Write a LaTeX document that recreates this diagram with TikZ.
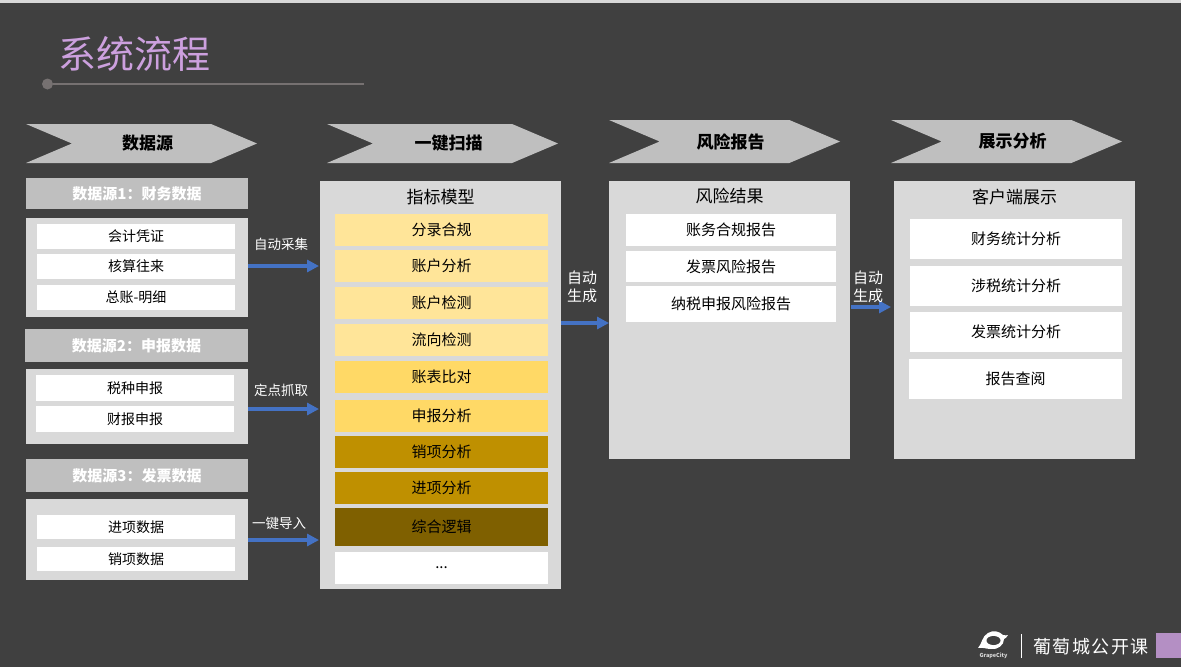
\documentclass[tikz,border=0pt]{standalone}
\usepackage{fontspec}
\setmainfont{Noto Sans CJK SC}
\usetikzlibrary{positioning,shapes.symbols,shapes.geometric,arrows.meta}
\definecolor{slidebg}{RGB}{64,64,64}
\definecolor{stripgray}{RGB}{217,217,217}
\definecolor{headgray}{RGB}{191,191,191}
\definecolor{panelgray}{RGB}{217,217,217}
\definecolor{titlepurple}{RGB}{204,160,222}
\definecolor{rulegray}{RGB}{118,113,113}
\definecolor{flowblue}{RGB}{68,114,196}
\definecolor{paleyellow}{RGB}{255,229,153}
\definecolor{midyellow}{RGB}{255,217,102}
\definecolor{darkgold}{RGB}{191,144,0}
\definecolor{deepgold}{RGB}{127,96,0}
\definecolor{cornerpurple}{RGB}{180,143,196}

\begin{document}
\begin{tikzpicture}[
    x=1pt, y=-1pt,
    node distance=5pt,
    every node/.style={inner sep=0pt, outer sep=0pt},
    stage/.style={signal, signal to=east, signal from=west, signal pointer angle=46,
                  fill=headgray, minimum width=231pt, minimum height=39pt,
                  execute at begin node=\hspace*{12pt},
                  font=\fontsize{17}{20}\selectfont\bfseries, text=black},
    srchead/.style={rectangle, fill=headgray, minimum width=222pt, minimum height=33pt,
                    font=\fontsize{15}{18}\selectfont\bfseries, text=white},
    panel/.style={rectangle, fill=panelgray, anchor=north west},
    paneltitle/.style={font=\fontsize{17}{20}\selectfont, text=black},
    srcitem/.style={rectangle, fill=white, minimum width=198pt, minimum height=25pt,
                    font=\fontsize{14}{17}\selectfont, text=black},
    checkitem/.style={rectangle, minimum width=213pt, minimum height=32pt,
                      font=\fontsize{15}{18}\selectfont, text=black},
    resultitem/.style={rectangle, fill=white, minimum width=210pt, minimum height=32pt,
                       font=\fontsize{15}{18}\selectfont, text=black},
    viewitem/.style={rectangle, fill=white, minimum width=212pt, minimum height=40pt,
                     font=\fontsize{15}{18}\selectfont, text=black},
    flowlabel/.style={font=\fontsize{13.5}{18}\selectfont, text=white, align=center},
    flow/.style={-{Triangle[length=12pt,width=12pt]}, line width=3.8pt, draw=flowblue, shorten >=1pt}
]
\useasboundingbox (0,0) rectangle (1181,667);
\fill[slidebg] (0,0) rectangle (1181,667);
\fill[stripgray] (0,0) rectangle (1181,3);

% Title
\node[font=\fontsize{38}{44}\selectfont, text=titlepurple] (title) at (134,53.5) {系统流程};
\node[circle, fill=rulegray, minimum size=11pt] (dot) at (47.5,84) {};
\coordinate (ruleend) at (364,84);
\draw[rulegray, line width=1.2pt] (dot) -- (ruleend);

% Stages
\node[stage] (stage1) at (141.5,143.5) {数据源};
\node[stage] (stage2) at (442.5,143.5) {一键扫描};
\node[stage, minimum height=43pt] (stage3) at (724.5,141.5) {风险报告};
\node[stage, minimum height=43pt] (stage4) at (1006.5,141.5) {展示分析};

% Data sources
\node[srchead, minimum height=31pt] (head1) at (137,193.5) {数据源1：财务数据};
\node[panel, minimum width=222pt, minimum height=99pt] (src1) at (26,218) {};
\node[srcitem] (s11) at (136,236.5) {会计凭证};
\node[srcitem, below=5pt of s11] (s12) {核算往来};
\node[srcitem, below=6pt of s12] (s13) {总账-明细};

\node[srchead, minimum width=223pt] (head2) at (136.5,345.5) {数据源2：申报数据};
\node[panel, minimum width=222pt, minimum height=75pt] (src2) at (26,369) {};
\node[srcitem, minimum height=26pt] (s21) at (135,388) {税种申报};
\node[srcitem, minimum height=26pt, below=5pt of s21] (s22) {财报申报};

\node[srchead] (head3) at (137,475.5) {数据源3：发票数据};
\node[panel, minimum width=222pt, minimum height=81pt] (src3) at (26,499) {};
\node[srcitem, minimum height=24pt] (s31) at (136,527) {进项数据};
\node[srcitem, minimum height=24pt, below=8pt of s31] (s32) {销项数据};

% Model
\node[panel, minimum width=241pt, minimum height=408pt] (model) at (320,181) {};
\node[paneltitle] (modeltitle) at (440.5,197) {指标模型};
\node[checkitem, fill=paleyellow] (m1) at (441.5,230) {分录合规};
\node[checkitem, fill=paleyellow, below=4pt of m1] (m2) {账户分析};
\node[checkitem, fill=paleyellow, below=5pt of m2] (m3) {账户检测};
\node[checkitem, fill=paleyellow, below=5pt of m3] (m4) {流向检测};
\node[checkitem, fill=midyellow, below=5pt of m4] (m5) {账表比对};
\node[checkitem, fill=midyellow, below=7pt of m5] (m6) {申报分析};
\node[checkitem, fill=darkgold, below=4pt of m6] (m7) {销项分析};
\node[checkitem, fill=darkgold, below=4pt of m7] (m8) {进项分析};
\node[checkitem, fill=deepgold, minimum height=38pt, below=4pt of m8] (m9) {综合逻辑};
\node[checkitem, fill=white, below=6pt of m9] (m10) {...};

% Results
\node[panel, minimum width=241pt, minimum height=278pt] (result) at (609,181) {};
\node[paneltitle] (resulttitle) at (729.5,196) {风险结果};
\node[resultitem] (r1) at (731,230) {账务合规报告};
\node[resultitem, minimum height=31pt, below=5pt of r1] (r2) {发票风险报告};
\node[resultitem, minimum height=36pt, below=4pt of r2] (r3) {纳税申报风险报告};

% Client view
\node[panel, minimum width=241pt, minimum height=278pt] (client) at (894,181) {};
\node[paneltitle] (clienttitle) at (1014.5,197) {客户端展示};
\node[viewitem] (c1) at (1016,239) {财务统计分析};
\node[viewitem, below=7pt of c1] (c2) {涉税统计分析};
\node[viewitem, below=6pt of c2] (c3) {发票统计分析};
\node[viewitem, minimum width=213pt, below=7pt of c3, xshift=-0.5pt] (c4) {报告查阅};

% Arrows
\coordinate (lane1) at (0,266);
\coordinate (lane2) at (0,409);
\coordinate (lane3) at (0,540);
\coordinate (lane4) at (0,323);
\coordinate (lane5) at (0,307);
\draw[flow] (src1.east |- lane1) -- (model.west |- lane1);
\draw[flow] (src2.east |- lane2) -- (model.west |- lane2);
\draw[flow] (src3.east |- lane3) -- (model.west |- lane3);
\draw[flow, shorten >=0pt] (model.east |- lane4) -- (result.west |- lane4);
\draw[flow, shorten <=1pt, shorten >=3pt] (result.east |- lane5) -- (client.west |- lane5);
\node[flowlabel] (lab1) at (281,244) {自动采集};
\node[flowlabel] (lab2) at (281,390) {定点抓取};
\node[flowlabel] (lab3) at (279,523) {一键导入};
\node[flowlabel, font=\fontsize{15}{18}\selectfont] (lab4) at (582,286.5) {自动\\生成};
\node[flowlabel, font=\fontsize{15}{18}\selectfont] (lab5) at (868,286.5) {自动\\生成};

% Footer
\fill[white] (978,648) .. controls (982,644) and (982,636) .. (988,633)
    .. controls (993,630) and (999,631) .. (1003,635) .. controls (1005,636) and (1007,635) .. (1008,635)
    .. controls (1007,638) and (1005,638) .. (1004,639) .. controls (1004,645) and (998,650) .. (991,649)
    .. controls (986,649) and (983,647) .. (978,648) -- cycle;
\node[ellipse, fill=slidebg, minimum width=14pt, minimum height=9pt] (logo) at (993.5,640.5) {};
\node[font=\fontsize{5.5}{6}\selectfont\bfseries, text=stripgray, below=7.5pt of logo] (logotext) {GrapeCity};
\coordinate (sep1) at (1021,634);
\coordinate (sep2) at (1021,658);
\draw[white, line width=0.8pt] (sep1) -- (sep2);
\node[font=\fontsize{18}{22}\selectfont, text=white] (brand) at (1091,647) {葡\hspace{1.5pt}萄\hspace{1.5pt}城\hspace{1.5pt}公\hspace{1.5pt}开\hspace{1.5pt}课};
\node[rectangle, fill=cornerpurple, minimum width=25pt, minimum height=25pt] (corner) at (1168.5,645.5) {};
\end{tikzpicture}
\end{document}
